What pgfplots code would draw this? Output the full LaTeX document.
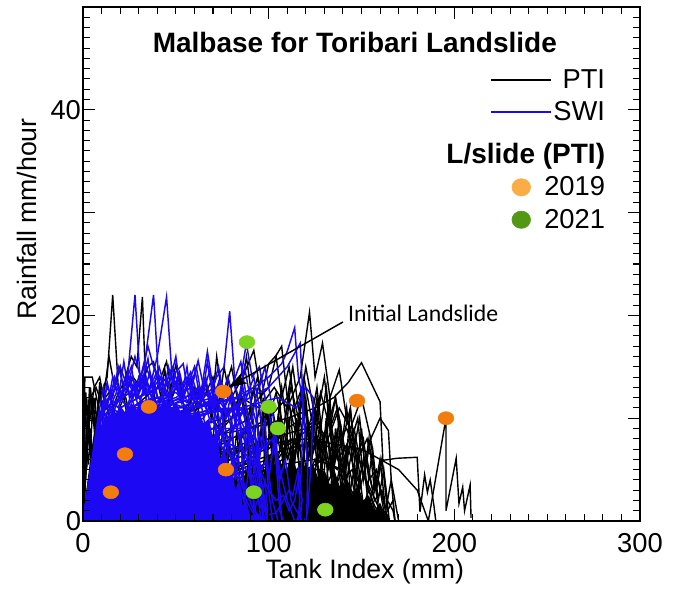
\documentclass[border=0pt]{standalone}
\usepackage{pgfplots}
\pgfplotsset{compat=1.18}
\usetikzlibrary{arrows.meta}
\usepackage{fontspec}
\setmainfont{Liberation Sans}
\newfontfamily\calibri{Carlito}

\definecolor{swiblue}{RGB}{28,8,242}
\definecolor{dotorange}{RGB}{242,124,14}
\definecolor{dotgreen}{RGB}{124,212,32}
\definecolor{legorange}{RGB}{250,172,70}
\definecolor{leggreen}{RGB}{82,152,20}

\pgfplotsset{
  pti/.style={black, line width=1.05pt, forget plot},
  swi/.style={swiblue, line width=1.1pt, forget plot},
}

\begin{document}
\begin{tikzpicture}
\begin{axis}[
  name=ax,
  width=417.75pt, height=385.5pt, scale only axis,
  xmin=0, xmax=300, ymin=0, ymax=50,
  xtick={0,100,200,300}, minor x tick num=9,
  ytick={0,10,20,30,40,50}, yticklabels={0,,20,,40,}, minor y tick num=9,
  xtick pos=both, ytick pos=both,
  tick align=inside, major tick length=9pt, minor tick length=5pt,
  axis line style={line width=1.1pt},
  every tick/.style={black, line width=0.8pt},
  axis on top,
  /pgf/number format/assume math mode=true,
  ticklabel style={font=\fontsize{20.5}{24}\selectfont},
  xticklabel style={yshift=-6pt},
  yticklabel style={xshift=2pt},
  xlabel={Tank Index (mm)},
  ylabel={Rainfall mm/hour},
  label style={font=\fontsize{20}{24}\selectfont},
  xlabel style={at={(axis description cs:0.506,-0.099)}, anchor=center},
  ylabel style={at={(axis description cs:-0.1005,0.5875)}, anchor=center},
  legend image code/.code={\draw[#1] (0pt,0pt) -- (45pt,0pt);},
  legend cell align=right,
  legend style={draw=none, fill=none, inner sep=0pt, column sep=-8pt, row sep=4.5pt,
    at={(axis description cs:0.7307,0.884)}, anchor=north west,
    font=\fontsize{20.5}{24}\selectfont},
]

% legend samples
\addlegendimage{black, line width=1.5pt}
\addlegendentry{PTI}
\addlegendimage{swiblue, line width=1.5pt}
\addlegendentry{SWI}
\addlegendimage{legend image code/.code={}}
\addlegendentry{\rule{0pt}{22pt}\makebox[0pt][r]{\fontsize{21}{24}\selectfont\bfseries L/slide (PTI)}}
\addlegendimage{legend image code/.code={\fill[legorange] (22.5pt,0pt) ellipse (7pt and 6.5pt);}}
\addlegendentry{2019}
\addlegendimage{legend image code/.code={\fill[leggreen] (22.5pt,0pt) ellipse (7pt and 6.5pt);}}
\addlegendentry{2021}

% PTI dense low block
\addplot[fill=black, draw=none, forget plot] coordinates {
(60,0) (66,1.5) (70,1) (74,3) (78,2) (82,4.5) (85,3) (88,5) (91,4) (94,6) (97,4.5) (100,6.5) (103,5) (106,6) (109,4.5) (112,6.5) (115,5) (118,6) (121,4.5) (124,5.5) (127,4) (130,5) (133,3.5) (136,4.5) (139,3) (142,4) (145,2.5) (148,3.5) (151,2) (154,2.5) (157,1) (160,1.8) (163,0.5) (166,0)
} \closedcycle;

% PTI events
\addplot[pti] coordinates {(0,0) (1,14) (5,14) (9,10.5) (13,11) (17,7) (22,4) (28,1) (32,0)};
\addplot[pti] coordinates {(0,0) (2,9.8) (6,9.8) (10,7.5) (15,6) (20,3) (26,0)};
\addplot[pti] coordinates {(0,0) (5,7) (9,12) (13,14) (16,22) (19,13) (23,12) (27,9) (32,5) (38,2) (44,0)};
\addplot[pti] coordinates {(0,0) (6,4) (12,8) (18,12) (22,13.5) (26,16) (29,15) (32,21.8) (34,12) (37,13.5) (41,10) (47,6) (54,2) (60,0)};
\addplot[pti] coordinates {(0,0) (8,5) (15,9) (22,12) (27,14) (31,13) (35,15) (38,15.5) (42,12) (44,14.8) (47,11) (52,8) (58,4) (64,1) (70,0)};
\addplot[pti] coordinates {(0,0) (4,12) (7,13) (10,11.5) (14,12.5) (18,10) (22,8) (27,5) (33,2) (38,0)};
\addplot[pti] coordinates {(0,0) (1,6) (3,8) (5,6.5) (8,9) (11,7) (15,8.5) (19,5) (24,3) (30,0)};
\addplot[pti] coordinates {(0,0) (0.5,10) (2,12) (3,8) (4,13) (6,9) (8,11) (10,6) (13,8) (16,4) (20,0)};
\addplot[pti] coordinates {(0,0) (1.5,5) (2.5,11) (4,7) (5.5,12) (7,8) (9,13.5) (11,9) (14,10) (17,6) (22,2) (26,0)};
\addplot[pti] coordinates {(0,0) (0.8,8) (2,5) (3,10) (5,4) (7,9) (9,5) (12,7) (15,3) (20,0)};
\addplot[pti] coordinates {(0,0) (0.5,4) (1.5,12.5) (2.5,9) (3.5,13) (5,10) (6.5,12) (8,7) (11,5) (15,2) (18,0)};
\addplot[pti] coordinates {(0,0) (1,3) (2,7) (3,5.5) (4,9) (5,6) (6,8) (8,4) (10,2) (12,0)};
\addplot[pti] coordinates {(0,0) (3,9) (6,13) (9,14) (11,12) (14,16) (17,13) (20,15) (23,11) (27,8) (33,4) (40,0)};
\addplot[pti] coordinates {(0,0) (20,10) (40,13) (45,15.5) (48,12) (52,14) (55,10) (60,13) (64,9) (70,7) (78,4) (86,1) (90,0)};
\addplot[pti] coordinates {(0,0) (30,8) (45,11) (50,15.2) (54,12) (58,14) (62,11) (66,13.5) (70,10) (76,8) (84,5) (92,2) (98,0)};
\addplot[pti] coordinates {(0,0) (40,9) (60,11) (66,14) (69,10) (72,16) (75,12) (78,14) (82,10) (86,12) (90,8) (95,5) (100,2) (105,0)};
\addplot[pti] coordinates {(0,0) (50,10) (75,12) (80,15) (84,11) (88,16) (91,12) (94,14) (98,9) (102,11) (106,7) (110,8) (114,4) (118,2) (122,0)};
\addplot[pti] coordinates {(0,0) (15,4) (30,7) (45,9) (55,11) (62,12.5) (68,11) (74,13.5) (80,12) (86,14) (92,16.6) (96,12) (100,15.3) (104,16.1) (107,17) (110,12) (114,9) (118,6) (122,3) (126,1) (130,0)};
\addplot[pti] coordinates {(0,0) (20,5) (40,8) (60,9) (75,10) (85,12) (95,11) (103,13) (110,11) (117,14) (122,20.3) (125,14) (129,17.3) (133,12) (138,14.7) (142,10) (147,7) (152,4) (157,1.5) (162,0)};
\addplot[pti] coordinates {(0,0) (30,5) (60,8) (90,9) (110,10) (125,11) (135,12) (143,13.5) (150,15.4) (160,11.6) (161.5,5.9) (169,6.1) (180,6.2) (181.5,0.9) (184,4.5) (185.5,2.8) (187,4) (189,1.5) (190,0)};
\addplot[pti] coordinates {(0,0) (40,5) (80,7) (120,8) (150,7) (170,5) (180,3) (186,0) (195.5,10) (195.5,1) (201,6.1) (202.5,1.7) (204.5,3.3) (205.5,1) (208.5,3.5) (209,0.3)};
\addplot[pti] coordinates {(0,0) (30,4) (60,6) (90,7) (115,8) (125,9.5) (132,8) (138,11) (144,9) (150,12) (155,8) (160,10) (164.5,8.8) (166,4) (168,2) (170,0)};
\addplot[pti] coordinates {(0,0) (40,4) (80,6) (100,7) (110,9) (118,10) (123,8) (128,12.5) (133,9) (137,11) (141,7) (146,9) (150,5) (155,3) (160,1) (165,0)};
\addplot[pti] coordinates {(0,0) (50,3) (90,5) (105,6) (112,8) (116,7) (120,11) (124,7) (128,9) (132,5) (136,7) (140,4) (145,5) (150,2) (156,1) (160,0)};
\addplot[pti] coordinates {(0,0) (50,3) (85,5) (95,8) (100,10) (103,7) (107,13) (110,9) (113,11) (117,8) (120,12) (123,6) (126,8) (130,4) (135,3) (140,1) (145,0)};
\addplot[pti] coordinates {(0,0) (60,3) (90,4) (100,6) (108,9) (112,5) (116,8) (120,4) (125,6) (130,3) (135,5) (140,2) (147,3) (152,1) (158,0)};
\addplot[pti] coordinates {(0,0) (50,4) (80,6) (88,9) (92,13) (95,8) (98,11) (102,7) (106,10) (110,6) (114,8) (118,4) (122,5) (126,2) (132,1) (138,0)};
\addplot[pti] coordinates {(0,0) (40,5) (70,8) (80,10) (85,12.5) (88,9) (90,11) (94,7) (97,9) (101,5) (104,7) (108,3) (112,4) (118,1) (124,0)};
\addplot[pti] coordinates {(0,0) (60,4) (100,5) (115,7) (125,8) (134,7) (142,9) (148,6) (153,8) (158,4) (161,6) (164,2) (167,1) (168,0)};
\addplot[pti] coordinates {(0,0) (60,3) (100,4) (120,5) (130,6) (137,5) (143,7) (148,4) (152,6) (156,3) (159,4) (163,1) (165,0)};
\addplot[pti] coordinates {(0,0) (50,6) (80,9) (90,10) (96,14) (100,10) (104,12.5) (108,9) (112,13) (116,10) (120,15) (124,11) (128,9) (131,13) (134,8) (138,6) (142,4) (147,2) (152,0)};
\addplot[pti] coordinates {(0,0) (30,6) (55,9) (65,12) (70,14) (73,11) (76,15) (79,12) (82,10) (86,13) (90,9) (94,6) (98,3) (103,1) (108,0)};
\addplot[pti] coordinates {(0,0) (60,3) (100,4) (118,5) (121,9) (124,3) (127,8) (130,2) (133,7) (136,3) (139,6) (143,2) (146,5) (150,1) (154,3) (158,0.5) (162,0)};
\addplot[pti] coordinates {(0,0) (70,3) (110,4) (128,4) (131,10) (134,4) (137,9) (140,3) (144,8) (147,2) (151,6) (154,1) (157,4) (160,0)};
\addplot[pti] coordinates {(0,0) (80,4) (83,9) (85,2) (88,10) (90,3) (93,8) (95,1) (98,7) (100,2) (103,9) (105,3) (108,6) (111,1) (114,5) (118,0)};
\addplot[pti] coordinates {(0,0) (90,4) (112,5) (115,10) (117,3) (120,9) (122,2) (125,11) (127,4) (130,8) (133,2) (136,9) (139,3) (142,7) (145,1) (148,6) (152,0)};
\addplot[pti] coordinates {(0,0) (100,5) (130,5) (133,12) (135,5) (138,10) (141,4) (144,11) (147,4) (150,9) (153,3) (156,7) (159,2) (162,5) (165,0)};
\addplot[pti] coordinates {(0,0) (90,5) (125,6) (140,5) (148,10) (151,4) (154,8) (157,3) (160,6) (163,1) (166,4) (168,0)};
\addplot[pti] coordinates {(0,0) (80,5) (95,6) (97,12) (99,5) (101,11) (103,4) (106,12) (108,5) (111,10) (113,4) (116,9) (119,3) (122,7) (125,2) (128,5) (132,0)};
\addplot[pti] coordinates {(0,0) (60,6) (70,8) (72,12) (74,6) (76,11) (78,5) (80,10) (82,4) (85,9) (87,3) (90,7) (93,2) (96,5) (100,0)};
\addplot[pti] coordinates {(0,0) (60,8) (90,11) (100,13) (104,16) (107,12) (111,15) (114,11) (118,13) (121,9) (125,11) (128,7) (132,8) (136,4) (140,2) (144,0)};
\addplot[pti] coordinates {(0,0) (70,7) (100,10) (110,12) (113,15) (116,11) (119,14) (123,10) (126,13) (129,8) (133,10) (137,6) (141,7) (146,3) (151,1) (155,0)};
\addplot[pti] coordinates {(0,0) (90,6) (96,7) (99,11) (102,6) (105,10) (108,5) (111,12) (114,6) (117,10) (120,5) (124,9) (127,4) (131,7) (135,3) (140,5) (145,1) (150,0)};
\addplot[pti] coordinates {(0,0) (100,6) (115,8) (119,13) (122,7) (126,12) (129,6) (132,11) (135,5) (139,9) (142,4) (146,8) (149,3) (153,6) (157,2) (161,3) (164,0)};
\addplot[pti] coordinates {(0,0) (85,7) (100,8) (108,9) (112,14) (115,9) (118,12) (121,7) (124,10) (127,6) (131,9) (134,5) (138,7) (142,3) (148,2) (154,0)};
\addplot[pti] coordinates {(0,0) (110,7) (130,8) (136,12) (139,7) (142,11) (145,6) (149,10) (152,5) (155,8) (158,3) (161,6) (164,1) (167,2) (168,0)};
\addplot[pti] coordinates {(0,0) (100,8) (120,9) (126,10) (130,14) (133,9) (136,12) (140,8) (144,11) (147,6) (151,8) (154,4) (158,5) (162,1) (165,0)};
\addplot[pti] coordinates {(0,0) (80,7) (92,8) (95,11) (98,6) (101,9) (104,5) (107,8) (110,3) (113,7) (116,2) (120,5) (124,1) (128,2) (132,0)};

% SWI dense core
\addplot[fill=swiblue, draw=none, forget plot] coordinates {
(0,0) (2,2) (3,4) (4,3.5) (5,6) (6,5.5) (7,8) (8,7.5) (9,9.5) (10,9) (12,10.5) (14,10) (16,11) (18,10.2) (20,11.2) (23,10.5) (26,11.5) (29,10.8) (32,11.8) (35,11) (38,12) (41,11) (44,11.8) (47,10.8) (50,11.5) (53,10.5) (56,11.2) (59,10.2) (62,10.8) (65,9.5) (68,10) (70,8) (72,9) (74,6) (76,7.5) (78,4.5) (80,6) (82,3) (84,4) (86,1.5) (88,2) (90,0.5) (94,0.8) (98,0)
} \closedcycle;

% SWI events
\addplot[swi] coordinates {(0,0) (4,5) (9,10) (14,12) (19,11) (24,14) (28,22) (31,13) (35,15.8) (38,12) (43,10) (50,7) (58,4) (66,1) (72,0)};
\addplot[swi] coordinates {(0,0) (6,6) (12,10) (18,12.5) (24,11) (29,13) (33,15) (38,22) (41,13) (45,14) (49,11) (55,8) (62,5) (70,2) (78,0)};
\addplot[swi] coordinates {(0,0) (8,7) (15,10) (22,13) (27,12) (32,14) (36,13) (40,16) (45,21.8) (48,14) (52,12.5) (57,10) (64,7) (72,4) (80,1) (86,0)};
\addplot[swi] coordinates {(0,0) (10,8) (20,11) (30,12) (40,13) (47,12) (50,14.5) (54,15.3) (57,12) (60,14) (62,15.6) (65,13) (67,15.5) (70,12) (74,11) (78,8) (83,5) (88,2) (94,0)};
\addplot[swi] coordinates {(0,0) (10,7) (20,10) (30,11.5) (40,12) (50,12.5) (56,11.5) (62,13) (68,12) (72,14) (76,15) (79,20.4) (82,13) (85,14) (88,17.3) (91,14) (95,15) (98,12) (102,9) (106,5) (110,2) (114,0)};
\addplot[swi] coordinates {(0,0) (12,8) (25,11) (40,12) (55,11) (70,11.5) (82,12) (92,13) (100,14) (107,15.3) (110,16.5) (114,18.8) (116,14) (118.5,11.8) (118,7) (117,3) (116,0)};
\addplot[swi] coordinates {(0,0) (5,5) (10,9) (16,11) (22,10) (27,13) (30,11) (34,14) (37,12) (42,13.5) (47,11) (53,9) (60,6) (67,3) (74,0)};
\addplot[swi] coordinates {(0,0) (15,9) (28,11) (42,11) (52,12) (58,13.5) (63,11) (70,12) (76,10) (82,11) (87,9) (92,10.5) (97,7) (102,8) (106,4) (109,6) (112,2) (115,1) (118,0)};
\addplot[swi] coordinates {(0,0) (20,10) (40,11) (60,11) (72,12) (80,10) (86,11) (90,8) (94,5) (97,2) (100,0)};
\addplot[swi] coordinates {(0,0) (15,8) (30,10) (48,10.5) (60,11) (70,13) (75,12) (78,14) (84,10) (88,11) (92,6) (95,3) (98,0)};
\addplot[swi] coordinates {(0,0) (30,8) (60,9) (85,7) (95,5) (100,3) (104,2) (108,2.5) (111,1) (114,2) (116,4) (117,1) (115,0)};
\addplot[swi] coordinates {(0,0) (40,9) (70,8) (88,5) (93,3) (96,1.2) (100,0.6) (104,0.8) (108,2) (111,3) (113,2.5) (116,5) (118,2) (117,0)};
\addplot[swi] coordinates {(0,0) (20,9) (40,10.5) (55,12) (62,13) (66,11) (72,13) (77,11) (80,9) (84,10) (88,7) (92,8.5) (96,5) (99,6) (102,2) (105,0)};
\addplot[swi] coordinates {(0,0) (8,9) (13,11.5) (18,13) (21,12) (24,14.5) (27,12) (30,14) (33,12.5) (36,14.5) (40,12) (46,11) (52,9) (60,5) (68,1) (74,0)};
\addplot[swi] coordinates {(0,0) (25,10) (45,12) (50,13.5) (53,11.5) (57,14) (60,12) (64,12.5) (68,10) (73,9) (78,7) (85,4) (92,1) (98,0)};
\addplot[swi] coordinates {(0,0) (5,6) (8,9) (11,11) (15,12.5) (20,15) (24,13) (28,16) (31,14) (35,17) (38,15) (42,13) (48,9) (55,5) (62,2) (68,0)};
\addplot[swi] coordinates {(0,0) (30,9) (55,10) (70,11) (78,12.5) (83,11) (86,13) (89,10) (93,8) (96,4) (99,0)};
\addplot[swi] coordinates {(0,0) (35,10) (60,10) (76,11) (81,13.5) (84,12) (87,15) (90,12) (93,8) (95,4) (97,0)};
\addplot[swi] coordinates {(0,0) (40,10) (80,11) (100,13) (110,15) (117,17.3) (119,10) (121,5) (120.5,0.5) (119,0)};
\addplot[swi] coordinates {(0,0) (50,10) (85,11) (105,12) (115,11) (120,13) (124,12) (123,6) (121,1) (120,0)};
\addplot[swi] coordinates {(0,0) (5,5) (7,8) (9,10.5) (11,11) (13,13.5) (15,12) (17,14) (20,12.5) (24,13) (28,11) (33,9) (40,6) (48,3) (55,0)};
\addplot[swi] coordinates {(0,0) (20,11) (35,12.5) (40,14) (43,12) (46,15) (49,13) (52,14.5) (55,12) (59,11) (64,9) (70,6) (76,3) (82,0)};
\addplot[swi] coordinates {(0,0) (30,11) (50,12) (58,13) (61,15) (64,12) (68,14.5) (71,11) (74,13) (77,10) (80,11) (84,8) (87,9) (90,4) (94,0)};
\addplot[swi] coordinates {(0,0) (40,11) (62,12) (70,11) (74,13.5) (77,10) (80,12.5) (83,9) (86,11) (90,7) (93,4) (96,0)};
\addplot[swi] coordinates {(0,0) (10,10) (20,12) (26,15) (29,12) (32,14) (35,11) (39,13) (43,10) (48,12) (53,9) (58,10) (64,7) (70,4) (78,1) (84,0)};
\addplot[swi] coordinates {(0,0) (50,9) (70,9) (80,8) (84,11) (86,5) (89,9) (91,3) (94,7) (96,2) (98,4) (100,0)};
\addplot[swi] coordinates {(0,0) (60,9) (80,9) (90,9) (93,12) (95,6) (98,10) (100,4) (103,8) (106,1) (108,0)};
\addplot[swi] coordinates {(0,0) (45,9) (65,10) (70,12) (72,7) (75,11) (77,5) (80,10) (82,4) (85,8) (87,2) (90,6) (92,1) (96,3) (100,0)};
\addplot[swi] coordinates {(0,0) (25,10) (40,11) (46,13) (50,16) (53,12) (56,15) (59,11) (62,13) (66,9) (70,10) (75,7) (80,8) (86,4) (92,1) (96,0)};
\addplot[swi] coordinates {(0,0) (8,10) (11,13) (13,11) (16,14) (19,12) (22,15.5) (25,12) (28,13.5) (32,11) (37,12) (42,9) (48,7) (55,4) (62,1) (66,0)};
\addplot[swi] coordinates {(0,0) (9,10) (12,12) (14,11) (18,13.5) (22,12) (26,14) (30,12.5) (34,15) (38,13) (42,14) (46,12) (50,13) (55,11) (62,8) (70,4) (78,0)};
\addplot[swi] coordinates {(0,0) (12,11) (20,12) (25,13.5) (30,12) (36,13) (41,15) (44,13) (48,14) (53,12.5) (58,14.5) (62,12) (67,13) (72,10) (78,7) (85,3) (90,0)};
\addplot[swi] coordinates {(0,0) (15,11) (25,12.5) (33,14) (37,12) (40,14.5) (44,13) (48,15) (52,13) (56,14) (60,11.5) (66,12.5) (72,11) (76,8) (82,5) (88,1) (92,0)};
\addplot[swi] coordinates {(0,0) (10,11) (13,13) (16,12) (19,15) (22,13) (25,14) (29,12) (33,13.5) (37,11) (43,10) (50,8) (58,5) (66,2) (72,0)};
\addplot[swi] coordinates {(0,0) (30,11) (45,12) (52,14) (55,12.5) (60,15) (63,12) (66,14) (69,11) (73,13.5) (76,11) (79,12) (83,9) (88,6) (94,3) (100,0)};
\addplot[swi] coordinates {(0,0) (35,11) (55,12) (64,13) (67,16.5) (70,13) (73,15) (76,12) (79,13) (83,11) (87,12) (91,8) (95,5) (98,2) (100,0)};
\addplot[swi] coordinates {(0,0) (50,11) (70,12) (80,13) (85,15.5) (88,12) (92,14) (95,11) (98,7) (100,3) (102,0)};
\addplot[swi] coordinates {(0,0) (60,11) (85,12) (95,13) (98,15) (101,12) (104,8) (106,3) (107,0)};

% landslide points
\addplot[only marks, mark=*, mark size=4.9pt, mark options={xscale=1.2, draw=dotorange, fill=dotorange}, forget plot] coordinates {
(15,2.8) (22.6,6.5) (35.5,11.1) (75.5,12.6) (77,5) (147.6,11.7) (195.5,10.0)
};
\addplot[only marks, mark=*, mark size=4.9pt, mark options={xscale=1.2, draw=dotgreen, fill=dotgreen}, forget plot] coordinates {
(88.3,17.4) (100,11.1) (105,9.0) (92,2.8) (130.5,1.1)
};

\draw[black, line width=1.1pt, -{Stealth[length=14pt, width=9pt, inset=3.5pt]}] (axis cs:140,19.36) -- (axis cs:78.3,13.0);
\node[anchor=west, inner sep=0pt, font=\calibri\fontsize{17.8}{20}\selectfont] at (axis cs:142.7,20.2) {Initial Landslide};
\node[font=\fontsize{21}{24}\selectfont\bfseries] at (axis description cs:0.488,0.930) {Malbase for Toribari Landslide};
\end{axis}
\path (ax.south west) ++(-62.25pt,-51pt) coordinate (bbl);
\path (ax.north east) ++(27pt,5.25pt) coordinate (btr);
\path (bbl) rectangle (btr);
\end{tikzpicture}
\end{document}
